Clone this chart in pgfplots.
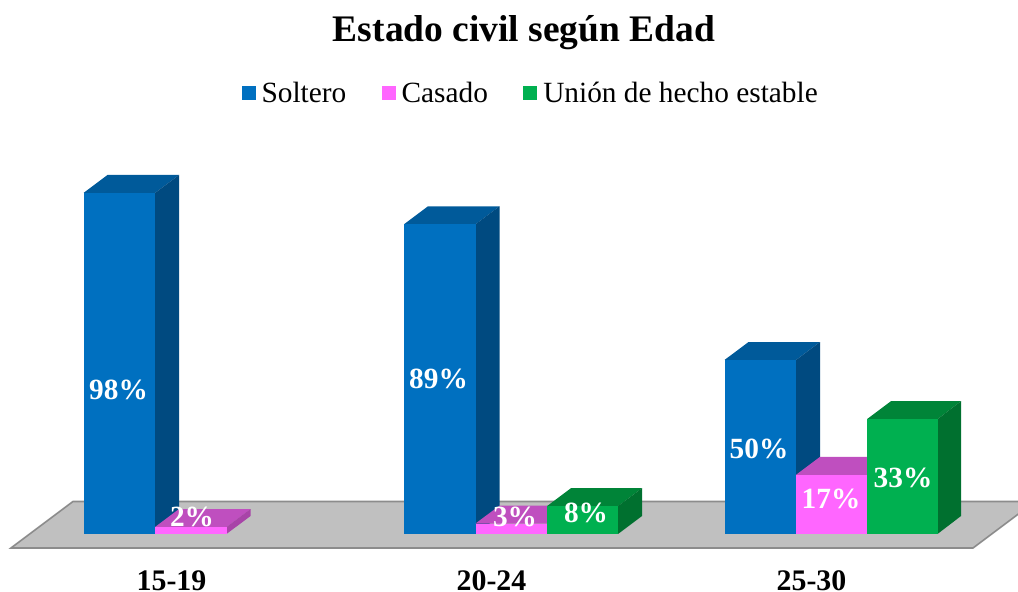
\documentclass[border=0pt]{standalone}
\usepackage{pgfplots}
\pgfplotsset{compat=1.18}
\usepackage{fontspec}
\setmainfont{Liberation Serif}
\definecolor{bluef}{HTML}{0070C0}
\definecolor{bluet}{HTML}{005A9A}
\definecolor{blues}{HTML}{004A80}
\definecolor{pinkf}{HTML}{FF66FF}
\definecolor{pinkt}{HTML}{BF4FBF}
\definecolor{pinks}{HTML}{A844A8}
\definecolor{greenf}{HTML}{00B050}
\definecolor{greent}{HTML}{008438}
\definecolor{greens}{HTML}{00702F}
\definecolor{floorc}{HTML}{C0C0C0}
\definecolor{floore}{HTML}{8C8C8C}
\newcommand{\dlabel}[3]{\node[text=white,font=\fontsize{22}{24}\selectfont\bfseries,inner sep=0pt] at (axis cs:#1,#2) {#3};}
\begin{document}
\begin{tikzpicture}
\useasboundingbox (0,0) rectangle (763.5pt,444pt);
\begin{axis}[
  at={(0pt,444pt)}, anchor=north west,
  scale only axis, width=763.5pt, height=420pt,
  xmin=0, xmax=1018, ymin=-7.471, ymax=153.448,
  axis x line=bottom, axis y line=none,
  x axis line style={draw=none,-},
  tick style={draw=none}, ytick=\empty,
  xtick={171.5,491.5,811.5}, xticklabels={15-19,20-24,25-30},
  xticklabel style={font=\fontsize{22.4}{24}\selectfont\bfseries, inner sep=0pt, yshift=-5.5pt},
  title={Estado civil según Edad},
  title style={at={(axis cs:524,153.448)},anchor=north,yshift=-17.5pt,font=\fontsize{28.1}{32}\selectfont\bfseries,inner sep=0pt},
  legend style={at={(axis cs:531,126.7)},anchor=center,draw=none,fill=none,legend columns=3,
    font=\fontsize{22}{24}\selectfont,inner sep=0pt,
    /tikz/every even column/.append style={column sep=24.5pt}},
  legend image code/.code={\fill[#1,draw=none] (0pt,-5.25pt) rectangle (10.5pt,5.25pt); \path[draw=none,fill=none] (0pt,0pt) rectangle (13pt,0.1pt);},
  legend cell align=left,
]
\addlegendimage{bluef}\addlegendentry{Soltero}
\addlegendimage{pinkf}\addlegendentry{Casado}
\addlegendimage{greenf}\addlegendentry{Unión de hecho estable}
% floor
\addplot[fill=floorc,draw=floore,line width=1.2pt,forget plot] coordinates {(11,-4.023)(73,9.339)(1035,9.339)(973,-4.023)} -- cycle;
% group 1
\addplot[fill=bluet,draw=none,forget plot] coordinates {(83.5,98)(107.5,103.17)(179,103.17)(155,98)} -- cycle;
\addplot[fill=blues,draw=none,forget plot] coordinates {(155,0)(179,5.17)(179,103.17)(155,98)} -- cycle;
\addplot[ybar,bar shift=0pt,bar width=71.5,fill=bluef,draw=none,forget plot] coordinates {(119.25,98)};
\addplot[fill=pinkt,draw=none,forget plot] coordinates {(155,2)(179,7.17)(250.5,7.17)(226.5,2)} -- cycle;
\addplot[fill=pinks,draw=none,forget plot] coordinates {(226.5,0)(250.5,5.17)(250.5,7.17)(226.5,2)} -- cycle;
\addplot[ybar,bar shift=0pt,bar width=71.5,fill=pinkf,draw=none,forget plot] coordinates {(190.75,2)};
% group 2
\addplot[fill=bluet,draw=none,forget plot] coordinates {(404,89)(428,94.17)(499.5,94.17)(475.5,89)} -- cycle;
\addplot[fill=blues,draw=none,forget plot] coordinates {(475.5,0)(499.5,5.17)(499.5,94.17)(475.5,89)} -- cycle;
\addplot[ybar,bar shift=0pt,bar width=71.5,fill=bluef,draw=none,forget plot] coordinates {(439.75,89)};
\addplot[fill=pinkt,draw=none,forget plot] coordinates {(475.5,3)(499.5,8.17)(571,8.17)(547,3)} -- cycle;
\addplot[fill=pinks,draw=none,forget plot] coordinates {(547,0)(571,5.17)(571,8.17)(547,3)} -- cycle;
\addplot[ybar,bar shift=0pt,bar width=71.5,fill=pinkf,draw=none,forget plot] coordinates {(511.25,3)};
\addplot[fill=greent,draw=none,forget plot] coordinates {(547,8)(571,13.17)(642,13.17)(618,8)} -- cycle;
\addplot[fill=greens,draw=none,forget plot] coordinates {(618,0)(642,5.17)(642,13.17)(618,8)} -- cycle;
\addplot[ybar,bar shift=0pt,bar width=71,fill=greenf,draw=none,forget plot] coordinates {(582.5,8)};
% group 3
\addplot[fill=bluet,draw=none,forget plot] coordinates {(724.5,50)(748.5,55.17)(820,55.17)(796,50)} -- cycle;
\addplot[fill=blues,draw=none,forget plot] coordinates {(796,0)(820,5.17)(820,55.17)(796,50)} -- cycle;
\addplot[ybar,bar shift=0pt,bar width=71.5,fill=bluef,draw=none,forget plot] coordinates {(760.25,50)};
\addplot[fill=pinkt,draw=none,forget plot] coordinates {(796,17)(820,22.17)(891,22.17)(867,17)} -- cycle;
\addplot[fill=pinks,draw=none,forget plot] coordinates {(867,0)(891,5.17)(891,22.17)(867,17)} -- cycle;
\addplot[ybar,bar shift=0pt,bar width=71,fill=pinkf,draw=none,forget plot] coordinates {(831.5,17)};
\addplot[fill=greent,draw=none,forget plot] coordinates {(867,33)(891,38.17)(961,38.17)(937.5,33)} -- cycle;
\addplot[fill=greens,draw=none,forget plot] coordinates {(937.5,0)(961,5.17)(961,38.17)(937.5,33)} -- cycle;
\addplot[ybar,bar shift=0pt,bar width=70.5,fill=greenf,draw=none,forget plot] coordinates {(902.25,33)};
% labels
\dlabel{118.5}{41.5}{98\%}
\dlabel{192}{5}{2\%}
\dlabel{438.5}{44.5}{89\%}
\dlabel{515}{5}{3\%}
\dlabel{586}{6}{8\%}
\dlabel{759}{24.5}{50\%}
\dlabel{831}{10.2}{17\%}
\dlabel{903}{16}{33\%}
\end{axis}
\end{tikzpicture}
\end{document}
